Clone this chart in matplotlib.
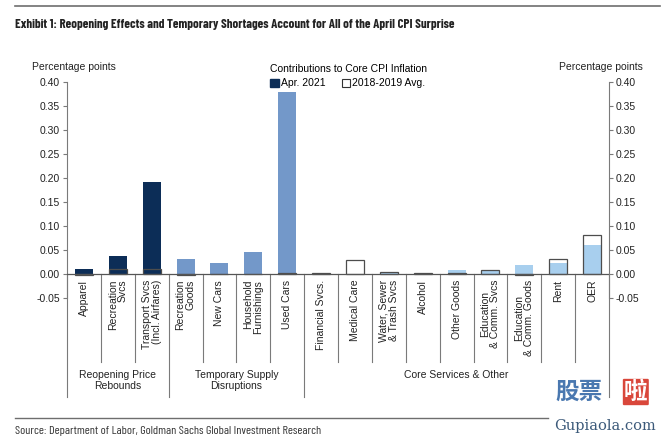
import matplotlib
matplotlib.use("Agg")
import matplotlib.pyplot as plt
import numpy as np
from matplotlib.patches import Rectangle
from matplotlib.transforms import blended_transform_factory

plt.rcParams['font.family'] = ['Liberation Sans', 'DejaVu Sans']
COND = ['Barlow Condensed', 'Liberation Sans', 'DejaVu Sans']

categories = ['Apparel', 'Recreation\nSvcs', 'Transport Svcs\n(Incl. Airfares)',
              'Recreation\nGoods', 'New Cars', 'Household\nFurnishings', 'Used Cars',
              'Financial Svcs.', 'Medical Care', 'Water, Sewer\n& Trash Svcs',
              'Alcohol', 'Other Goods', 'Education\n& Comm. Svcs',
              'Education\n& Comm. Goods', 'Rent', 'OER']
group_of = [0, 0, 0, 1, 1, 1, 1, 2, 2, 2, 2, 2, 2, 2, 2, 2]
groups = ['Reopening Price\nRebounds', 'Temporary Supply\nDisruptions', 'Core Services & Other']
apr_2021 = [0.010, 0.038, 0.191, 0.031, 0.024, 0.045, 0.380, 0.001,
            0.000, 0.003, 0.003, 0.009, 0.006, 0.019, 0.022, 0.061]
avg_2018_2019 = [-0.002, 0.010, 0.011, -0.002, 0.000, 0.001, 0.002, 0.002,
                 0.030, 0.004, 0.002, 0.003, 0.008, -0.002, 0.031, 0.081]
y_ticks = [-0.05, 0.00, 0.05, 0.10, 0.15, 0.20, 0.25, 0.30, 0.35, 0.40]

group_colors = ['#0c2d57', '#7398c9', '#a8cfee']
edge = '#4d4d4d'
grid_c = '#7a7a7a'

fig = plt.figure(figsize=(6.66, 4.4), dpi=100)
ax = fig.add_axes([67 / 666, 1 - 298 / 440, 542 / 666, 215.7 / 440])

x = np.arange(len(categories))
colors = [group_colors[g] for g in group_of]
ax.bar(x, apr_2021, width=0.53, color=colors, zorder=2)
ax.bar(x, avg_2018_2019, width=0.53, facecolor='none', edgecolor=edge,
       linewidth=0.9, zorder=3)
ax.axhline(0, color='#555555', linewidth=0.9, zorder=4)

ax.set_xlim(-0.5, len(categories) - 0.5)
ax.set_ylim(-0.05, 0.40)
ax.set_yticks(y_ticks)
ax.set_yticklabels(['%.2f' % t for t in y_ticks])
ax.set_xticks([])
ax.tick_params(axis='y', direction='out', length=3, width=0.8, color=grid_c,
               labelsize=7.5, pad=2, right=True, labelright=True, labelcolor='#222222')
for s in ['top', 'bottom']:
    ax.spines[s].set_visible(False)
for s in ['left', 'right']:
    ax.spines[s].set_color(grid_c)
    ax.spines[s].set_linewidth(0.8)

# category labels and table lines below the zero line
tr = blended_transform_factory(ax.transData, ax.transAxes)
y0 = 0.05 / 0.45
for i, lab in enumerate(categories):
    ma = 'center' if lab.startswith('Education') else 'right'
    ax.text(i, -0.012, lab, rotation=90, ha='center', va='top', multialignment=ma,
            fontsize=7.5, color='#222222', linespacing=1.0, clip_on=False)
for i in range(len(categories) + 1):
    xb = i - 0.5
    bottom = -0.459 if xb in (-0.5, 2.5, 6.5, 15.5) else -0.297
    ax.plot([xb, xb], [y0, bottom], color=grid_c, linewidth=0.8,
            transform=tr, clip_on=False)

for g, lab in enumerate(groups):
    idx = [i for i, gg in enumerate(group_of) if gg == g]
    ax.text((idx[0] + idx[-1]) / 2, -0.335, lab, ha='center', va='top',
            fontsize=7.5, color='#222222', linespacing=1.05, transform=tr)

fig.text(74 / 666, 1 - 67 / 440, 'Percentage points', ha='center', va='center',
         fontsize=7.5, color='#222222')
fig.text(601 / 666, 1 - 67 / 440, 'Percentage points', ha='center', va='center',
         fontsize=7.5, color='#222222')

handles = [Rectangle((0, 0), 1, 1, facecolor=group_colors[0], edgecolor=group_colors[0]),
           Rectangle((0, 0), 1, 1, facecolor='white', edgecolor='#333333', linewidth=0.8)]
leg = fig.legend(handles, ['Apr. 2021', '2018-2019 Avg.'], ncol=2, frameon=False,
                 title='Contributions to Core CPI Inflation', fontsize=7.5,
                 title_fontsize=7.5, loc='upper center', bbox_to_anchor=(348 / 666, 1 - 64 / 440),
                 handlelength=0.8, handleheight=0.8, handletextpad=0.2,
                 columnspacing=1.6, borderaxespad=0, borderpad=0, labelspacing=0.2)
leg._legend_box.sep = 3

# title, rules, source
fig.text(15 / 666, 1 - 25 / 440,
         'Exhibit 1: Reopening Effects and Temporary Shortages Account for All of the April CPI Surprise',
         ha='left', va='center', fontsize=9.3, fontweight='bold', color='#222222',
         family=COND)
fig.add_artist(plt.Line2D([15 / 666, 660 / 666], [1 - 6 / 440, 1 - 6 / 440],
                          color='#6e6e6e', linewidth=1.2))
fig.add_artist(plt.Line2D([15 / 666, 548 / 666], [1 - 418 / 440, 1 - 418 / 440],
                          color='#6e6e6e', linewidth=1.0))
fig.text(15 / 666, 1 - 431 / 440,
         'Source: Department of Labor, Goldman Sachs Global Investment Research',
         ha='left', va='center', fontsize=8.8, color='#333333', family=COND)

# watermark
fig.text(555 / 666, 1 - 392 / 440, '股票', ha='left', va='center', fontsize=17,
         fontweight='bold', color='#4a78b0', family=['Noto Sans CJK SC', 'DejaVu Sans'])
fig.text(624 / 666, 1 - 392 / 440, '啦', ha='left', va='center', fontsize=17,
         fontweight='bold', color='white', family=['Noto Sans CJK SC', 'DejaVu Sans'],
         bbox=dict(boxstyle='round,pad=0.05', facecolor='#d9473b', edgecolor='none'))
fig.text(605 / 666, 1 - 426 / 440, 'Gupiaola.com', ha='center', va='center',
         fontsize=10.5, color='#3c5a7a', family=['DejaVu Serif'])

fig.savefig('out.png', dpi=100)
